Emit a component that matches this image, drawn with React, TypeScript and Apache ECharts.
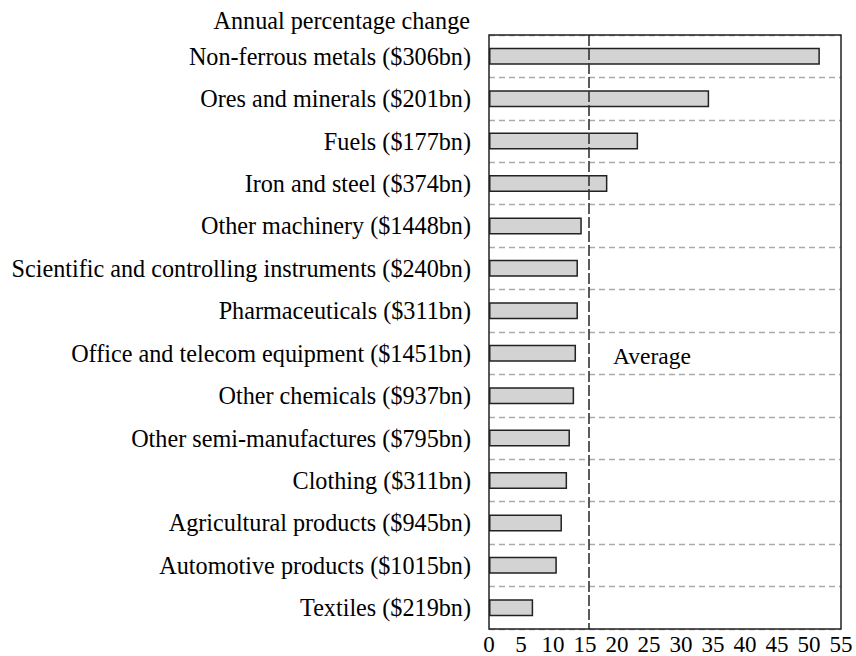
import React, { useEffect, useRef } from "react";
import * as echarts from "echarts";

const categories = [
  "Non-ferrous metals ($306bn)",
  "Ores and minerals ($201bn)",
  "Fuels ($177bn)",
  "Iron and steel ($374bn)",
  "Other machinery ($1448bn)",
  "Scientific and controlling instruments ($240bn)",
  "Pharmaceuticals ($311bn)",
  "Office and telecom equipment ($1451bn)",
  "Other chemicals ($937bn)",
  "Other semi-manufactures ($795bn)",
  "Clothing ($311bn)",
  "Agricultural products ($945bn)",
  "Automotive products ($1015bn)",
  "Textiles ($219bn)",
];

const changes = [51.7, 34.4, 23.3, 18.5, 14.5, 13.9, 13.9, 13.6, 13.3, 12.65, 12.2, 11.4, 10.6, 6.9];

const averageValue = 15.65;
const axisTitle = "Annual percentage change";
const averageLabel = "Average";

const FONT = "'Liberation Serif', 'Times New Roman', serif";

export default function App() {
  const ref = useRef<HTMLDivElement>(null);
  useEffect(() => {
    if (!ref.current) return;
    const chart = echarts.init(ref.current, null, { renderer: "svg" });
    chart.setOption({
      animation: false,
      backgroundColor: "#ffffff",
      textStyle: { fontFamily: FONT },
      grid: {
        left: 489,
        right: 15,
        top: 35,
        bottom: 23,
        show: true,
        z: 10,
        backgroundColor: "transparent",
        borderColor: "#222",
        borderWidth: 1.5,
        containLabel: false,
      },
      xAxis: {
        type: "value",
        min: 0,
        max: 55,
        interval: 5,
        axisLine: { show: false },
        axisTick: { show: false },
        splitLine: { show: false },
        axisLabel: { color: "#000", fontSize: 23, fontFamily: FONT, margin: 4 },
      },
      yAxis: {
        type: "category",
        data: categories,
        inverse: true,
        axisLine: { show: false },
        axisTick: { show: false },
        axisLabel: { color: "#000", fontSize: 24.2, fontFamily: FONT, margin: 18 },
        splitLine: {
          show: true,
          lineStyle: { color: "#aaaaaa", type: [6, 4], width: 1.3 },
        },
      },
      graphic: [
        {
          type: "text",
          right: 386,
          top: 8,
          style: { text: axisTitle, fontSize: 24.2, fontFamily: FONT, fill: "#000" },
        },
        {
          type: "text",
          left: 613,
          top: 344,
          style: { text: averageLabel, fontSize: 23.5, fontFamily: FONT, fill: "#000" },
        },
      ],
      series: [
        {
          type: "bar",
          data: changes,
          barWidth: 17,
          itemStyle: { color: "#d3d3d3", borderColor: "#222", borderWidth: 1.5 },
          markLine: {
            silent: true,
            symbol: "none",
            label: { show: false },
            lineStyle: { color: "#333", type: [11, 3], width: 1.6 },
            data: [{ xAxis: averageValue }],
          },
        },
      ],
    });
    return () => chart.dispose();
  }, []);
  return (
    <div
      ref={ref}
      style={{ position: "fixed", left: 0, top: 0, width: 856, height: 656 }}
    />
  );
}
